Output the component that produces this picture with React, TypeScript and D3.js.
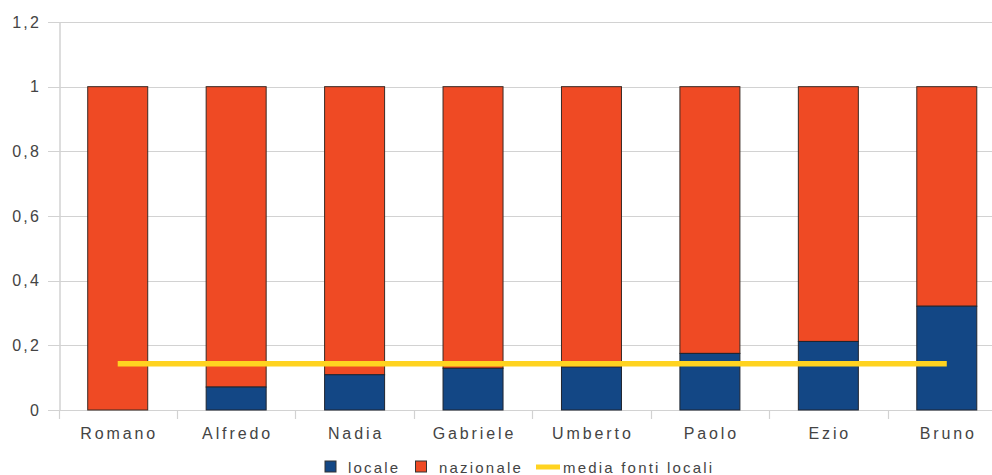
import React from "react";
import * as d3 from "d3";

const categories = ["Romano", "Alfredo", "Nadia", "Gabriele", "Umberto", "Paolo", "Ezio", "Bruno"];
const locale = [0, 0.071, 0.109, 0.129, 0.133, 0.175, 0.212, 0.321];
const nazionale = [1, 0.929, 0.891, 0.871, 0.867, 0.825, 0.788, 0.679];
const mediaFontiLocali = [0.143, 0.143, 0.143, 0.143, 0.143, 0.143, 0.143, 0.143];
const yTicks = [0, 0.2, 0.4, 0.6, 0.8, 1, 1.2];
const yTickLabels = ["0", "0,2", "0,4", "0,6", "0,8", "1", "1,2"];
const legendLabels = ["locale", "nazionale", "media fonti locali"];

const W = 992;
const H = 475;
const BLUE = "#134785";
const ORANGE = "#EF4A24";
const YELLOW = "#FFD320";
const GRID = "#d2d2d2";
const TEXT = "#444444";
const FONT = "'Liberation Sans', Arial, sans-serif";

export default function App() {
  const x = d3.scaleBand<string>().domain(categories).range([58.5, 1006]).padding(0);
  const y = d3.scaleLinear().domain([0, 1.2]).range([410, 22]);
  const step = x.step();
  const bw = 60;
  const cx = (c: string) => (x(c) as number) + step / 2;

  const line = d3
    .line<number>()
    .x((_, i) => cx(categories[i]))
    .y((d) => y(d));

  const xls = 2.9;

  return (
    <svg width={W} height={H} style={{ position: "absolute", left: 0, top: 0, background: "#fff" }}>
      {yTicks.map((t, i) => (
        <g key={i}>
          <line x1={48} x2={W} y1={Math.round(y(t)) + 0.5} y2={Math.round(y(t)) + 0.5} stroke={GRID} strokeWidth={1.2} />
          <text
            x={41}
            y={y(t)}
            dy="0.36em"
            textAnchor="end"
            fontFamily={FONT}
            fontSize={16}
            letterSpacing={2.2}
            fill={TEXT}
          >
            {yTickLabels[i]}
          </text>
        </g>
      ))}
      <line x1={60} x2={60} y1={22} y2={410} stroke={GRID} strokeWidth={1.5} />
      {categories.map((c) => (
        <line key={c} x1={Math.round(x(c) as number) + 0.5} x2={Math.round(x(c) as number) + 0.5} y1={410} y2={419} stroke={GRID} strokeWidth={1.2} />
      ))}
      {categories.map((c, i) => {
        const x0 = cx(c) - bw / 2;
        return (
          <g key={c}>
            <rect x={x0} y={y(nazionale[i] + locale[i])} width={bw} height={y(locale[i]) - y(nazionale[i] + locale[i])} fill={ORANGE} stroke="#3a2a24" strokeWidth={1} />
            {locale[i] > 0 && (
              <rect x={x0} y={y(locale[i])} width={bw} height={y(0) - y(locale[i])} fill={BLUE} stroke="#1f2530" strokeWidth={1} />
            )}
          </g>
        );
      })}
      <path d={line(mediaFontiLocali) || ""} fill="none" stroke={YELLOW} strokeWidth={5.5} />
      {categories.map((c) => (
        <text key={c} x={cx(c)} dx={xls / 2} y={439} textAnchor="middle" fontFamily={FONT} fontSize={16} letterSpacing={xls} fill={TEXT}>
          {c}
        </text>
      ))}
      <g fontFamily={FONT} fontSize={15} letterSpacing={2.2} fill={TEXT}>
        <rect x={325} y={461} width={11} height={11} fill={BLUE} stroke="#333" strokeWidth={1} />
        <text x={348} y={473}>{legendLabels[0]}</text>
        <rect x={415.5} y={461} width={11} height={11} fill={ORANGE} stroke="#333" strokeWidth={1} />
        <text x={439} y={473}>{legendLabels[1]}</text>
        <line x1={536} x2={560} y1={467} y2={467} stroke={YELLOW} strokeWidth={5} />
        <text x={563} y={473}>{legendLabels[2]}</text>
      </g>
    </svg>
  );
}
